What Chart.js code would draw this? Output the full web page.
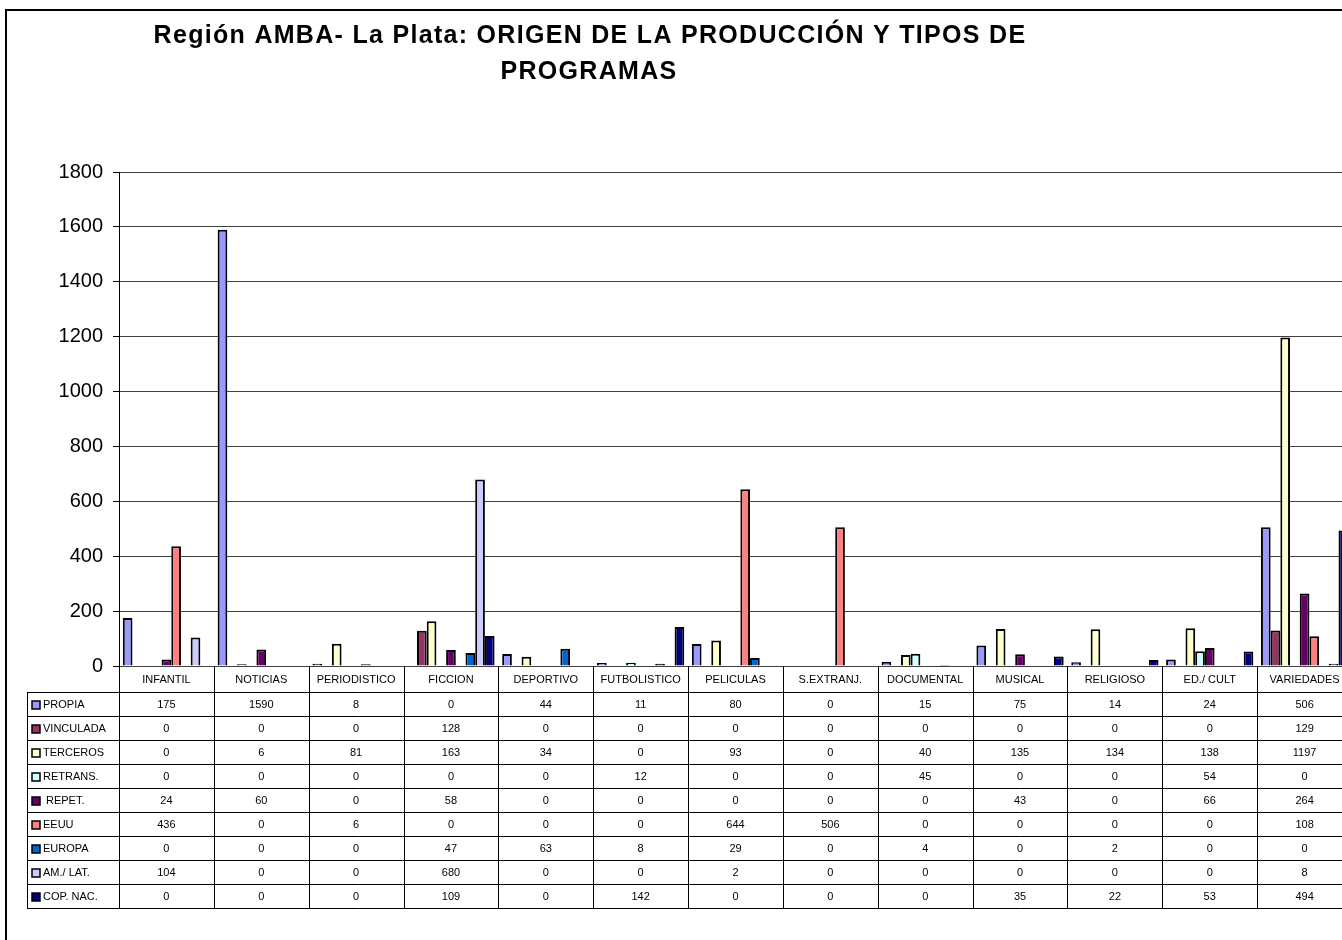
<!DOCTYPE html>
<html lang="es">
<head>
    <meta charset="UTF-8">
    <title>Región AMBA- La Plata: origen de la producción y tipos de programas</title>
    <style>
        body {
            margin: 0;
            padding: 0;
            background: #fff;
        }
        #wrap {
            width: 1342px;
            height: 940px;
            overflow: hidden;
            position: relative;
        }
        #wrap canvas {
            position: absolute;
            left: 0;
            top: 0;
        }
    </style>
    <script src="https://cdn.jsdelivr.net/npm/chart.js"></script>
</head>
<body>
    <div id="wrap">
        <canvas id="myCanvas" width="1370" height="940"></canvas>
    </div>

    <script>
        const categories = ['INFANTIL', 'NOTICIAS', 'PERIODISTICO', 'FICCION', 'DEPORTIVO', 'FUTBOLISTICO',
            'PELICULAS', 'S.EXTRANJ.', 'DOCUMENTAL', 'MUSICAL', 'RELIGIOSO', 'ED./ CULT', 'VARIEDADES'];

        const propia    = [175, 1590, 8, 0, 44, 11, 80, 0, 15, 75, 14, 24, 506];
        const vinculada = [0, 0, 0, 128, 0, 0, 0, 0, 0, 0, 0, 0, 129];
        const terceros  = [0, 6, 81, 163, 34, 0, 93, 0, 40, 135, 134, 138, 1197];
        const retrans   = [0, 0, 0, 0, 0, 12, 0, 0, 45, 0, 0, 54, 0];
        const repet     = [24, 60, 0, 58, 0, 0, 0, 0, 0, 43, 0, 66, 264];
        const eeuu      = [436, 0, 6, 0, 0, 0, 644, 506, 0, 0, 0, 0, 108];
        const europa    = [0, 0, 0, 47, 63, 8, 29, 0, 4, 0, 2, 0, 0];
        const amLat     = [104, 0, 0, 680, 0, 0, 2, 0, 0, 0, 0, 0, 8];
        const copNac    = [0, 0, 0, 109, 0, 142, 0, 0, 0, 35, 22, 53, 494];

        const seriesNames = ['PROPIA', 'VINCULADA', 'TERCEROS', 'RETRANS.', 'REPET.', 'EEUU', 'EUROPA', 'AM./ LAT.', 'COP. NAC.'];
        const seriesData = [propia, vinculada, terceros, retrans, repet, eeuu, europa, amLat, copNac];
        const seriesColors = ['#9999FF', '#993366', '#FFFFCC', '#CCFFFF', '#660066', '#FF8080', '#0066CC', '#CCCCFF', '#000080'];

        const yTicks = [0, 200, 400, 600, 800, 1000, 1200, 1400, 1600, 1800];

        const FONT = 'Arial, "Liberation Sans", sans-serif';

        // title, outer frame and the data table under the plot
        const tablePlugin = {
            id: 'dataTable',
            afterDraw(chart) {
                const ctx = chart.ctx;
                const x = chart.scales.x;
                const y = chart.scales.y;
                const area = chart.chartArea;
                const n = categories.length;
                const cw = (area.right - area.left) / n;
                const top = y.getPixelForValue(0);
                const headBottom = top + 26;
                const rowH = 24;
                const bottom = headBottom + rowH * seriesNames.length;
                const tableLeft = 27;

                ctx.save();

                // outer frame
                ctx.strokeStyle = '#000';
                ctx.lineWidth = 2;
                ctx.beginPath();
                ctx.moveTo(6, 940);
                ctx.lineTo(6, 10);
                ctx.lineTo(chart.width, 10);
                ctx.stroke();

                // title
                ctx.fillStyle = '#000';
                ctx.textAlign = 'center';
                ctx.textBaseline = 'alphabetic';
                ctx.font = 'bold 25px ' + FONT;
                ctx.letterSpacing = '1.3px';
                ctx.fillText('Región AMBA- La Plata: ORIGEN DE LA PRODUCCIÓN Y TIPOS DE', 590, 43);
                ctx.fillText('PROGRAMAS', 589, 79);
                ctx.letterSpacing = '0px';
                ctx.textBaseline = 'middle';

                // table lines
                ctx.lineWidth = 1;
                ctx.strokeStyle = '#000';
                ctx.beginPath();
                for (let i = 0; i <= n; i++) {
                    const bx = Math.round(x.getPixelForValue(i) - cw / 2) + 0.5;
                    ctx.moveTo(bx, top);
                    ctx.lineTo(bx, bottom);
                }
                ctx.moveTo(tableLeft + 0.5, headBottom);
                ctx.lineTo(tableLeft + 0.5, bottom);
                for (let r = 0; r <= seriesNames.length; r++) {
                    const ry = Math.round(headBottom + r * rowH) + 0.5;
                    ctx.moveTo(tableLeft, ry);
                    ctx.lineTo(area.right, ry);
                }
                ctx.stroke();

                // category labels
                ctx.font = '11px ' + FONT;
                ctx.textAlign = 'center';
                categories.forEach((c, i) => {
                    ctx.fillText(c, x.getPixelForValue(i), top + 14);
                });

                // rows
                seriesNames.forEach((name, r) => {
                    const cy = headBottom + r * rowH + rowH / 2 + 1;
                    ctx.fillStyle = seriesColors[r];
                    ctx.fillRect(32, cy - 4, 8, 8);
                    ctx.strokeStyle = '#000';
                    ctx.lineWidth = 1.5;
                    ctx.strokeRect(32, cy - 4, 8, 8);
                    ctx.fillStyle = '#000';
                    ctx.textAlign = 'left';
                    ctx.fillText(name, name === 'REPET.' ? 46 : 43, cy);
                    ctx.textAlign = 'center';
                    seriesData[r].forEach((v, i) => {
                        ctx.fillText(String(v), x.getPixelForValue(i), cy);
                    });
                });

                ctx.restore();
            }
        };

        const ctx = document.getElementById('myCanvas').getContext('2d');

        const chart = new Chart(ctx, {
            type: 'bar',
            data: {
                labels: categories,
                datasets: seriesNames.map((name, i) => ({
                    label: name,
                    data: seriesData[i],
                    backgroundColor: seriesColors[i],
                    borderColor: '#000',
                    borderWidth: 2,
                    borderSkipped: 'bottom',
                    categoryPercentage: 0.92,
                    barPercentage: 1.0
                }))
            },
            options: {
                responsive: false,
                animation: false,
                devicePixelRatio: 1,
                layout: {
                    padding: { top: 172, bottom: 274, left: 0, right: 18 }
                },
                plugins: {
                    legend: { display: false },
                    title: { display: false },
                    tooltip: { enabled: false }
                },
                scales: {
                    x: {
                        display: false
                    },
                    y: {
                        min: 0,
                        max: 1800,
                        afterFit(scale) {
                            scale.width = 119;
                        },
                        afterBuildTicks(scale) {
                            scale.ticks = yTicks.map(v => ({ value: v }));
                        },
                        border: { color: '#000', width: 1 },
                        grid: {
                            color: '#404040',
                            lineWidth: 1,
                            drawTicks: true,
                            tickLength: 6,
                            tickColor: '#000'
                        },
                        ticks: {
                            color: '#000',
                            padding: 10,
                            font: { size: 20, family: FONT },
                            callback: (v) => String(v)
                        }
                    }
                }
            },
            plugins: [tablePlugin]
        });
    </script>
</body>
</html>
